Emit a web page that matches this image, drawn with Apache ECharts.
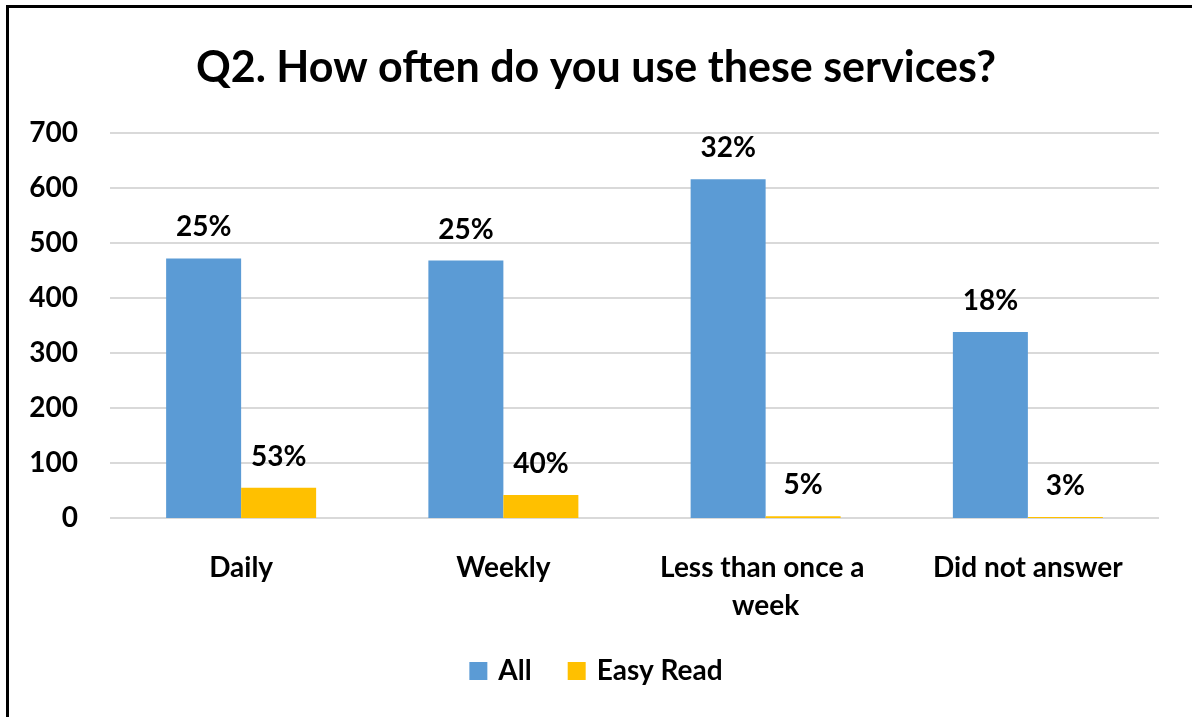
<!DOCTYPE html>
<html>
<head>
<meta charset="utf-8">
<script src="https://cdn.jsdelivr.net/npm/echarts@6/dist/echarts.min.js"></script>
<style>
  html, body { margin: 0; padding: 0; background: #fff; overflow: hidden; }
  #frame {
    position: absolute; left: 6px; top: 5px; width: 1200px; height: 730px;
    border-left: 3px solid #000; border-top: 3px solid #000;
  }
  #chart { position: absolute; left: 0; top: 0; width: 1192px; height: 717px; }
</style>
</head>
<body>
<div id="frame"></div>
<div id="chart"></div>
<script>
const categories = ['Daily', 'Weekly', 'Less than once a week', 'Did not answer'];
const allValues = [472, 468, 616, 338];
const easyReadValues = [55, 42, 3, 2];
const allLabels = ['25%', '25%', '32%', '18%'];
const easyReadLabels = ['53%', '40%', '5%', '3%'];
const yTicks = [0, 100, 200, 300, 400, 500, 600, 700];

const font = 'Lato, "Open Sans", sans-serif';
const chart = echarts.init(document.getElementById('chart'));

chart.setOption({
  backgroundColor: 'transparent',
  title: {
    text: 'Q2. How often do you use these services?',
    left: 'center',
    top: 42,
    textStyle: { fontFamily: font, fontSize: 43, fontWeight: 'bold', color: '#000' },
  },
  legend: {
    data: ['All', 'Easy Read'],
    bottom: 27,
    left: 'center',
    icon: 'rect',
    itemWidth: 18,
    itemHeight: 18,
    itemGap: 36,
    textStyle: {
      fontFamily: font, fontSize: 28, fontWeight: 'bold', color: '#000',
      padding: [0, 0, 0, 6],
    },
  },
  grid: { left: 110, right: 33, top: 133, bottom: 199 },
  xAxis: {
    type: 'category',
    data: categories,
    axisLine: { show: false },
    axisTick: { show: false },
    axisLabel: {
      fontFamily: font, fontSize: 28, fontWeight: 'bold', color: '#000',
      margin: 31, width: 250, overflow: 'break', lineHeight: 38,
      interval: 0,
    },
  },
  yAxis: {
    type: 'value',
    min: yTicks[0],
    max: yTicks[yTicks.length - 1],
    interval: 100,
    axisLine: { show: false },
    axisTick: { show: false },
    axisLabel: { fontFamily: font, fontSize: 28, fontWeight: 'bold', color: '#000', margin: 32 },
    splitLine: { lineStyle: { color: '#d9d9d9', width: 2 } },
  },
  series: [
    {
      name: 'All',
      type: 'bar',
      data: allValues,
      barWidth: 75,
      barGap: '0%',
      itemStyle: { color: '#5b9bd5' },
      label: {
        show: true, position: 'top', distance: 17,
        fontFamily: font, fontSize: 28, fontWeight: 'bold', color: '#000',
        formatter: (p) => allLabels[p.dataIndex],
      },
    },
    {
      name: 'Easy Read',
      type: 'bar',
      data: easyReadValues,
      barWidth: 75,
      itemStyle: { color: '#ffc000' },
      label: {
        show: true, position: 'top', distance: 17,
        fontFamily: font, fontSize: 28, fontWeight: 'bold', color: '#000',
        formatter: (p) => easyReadLabels[p.dataIndex],
      },
    },
  ],
});
</script>
</body>
</html>
